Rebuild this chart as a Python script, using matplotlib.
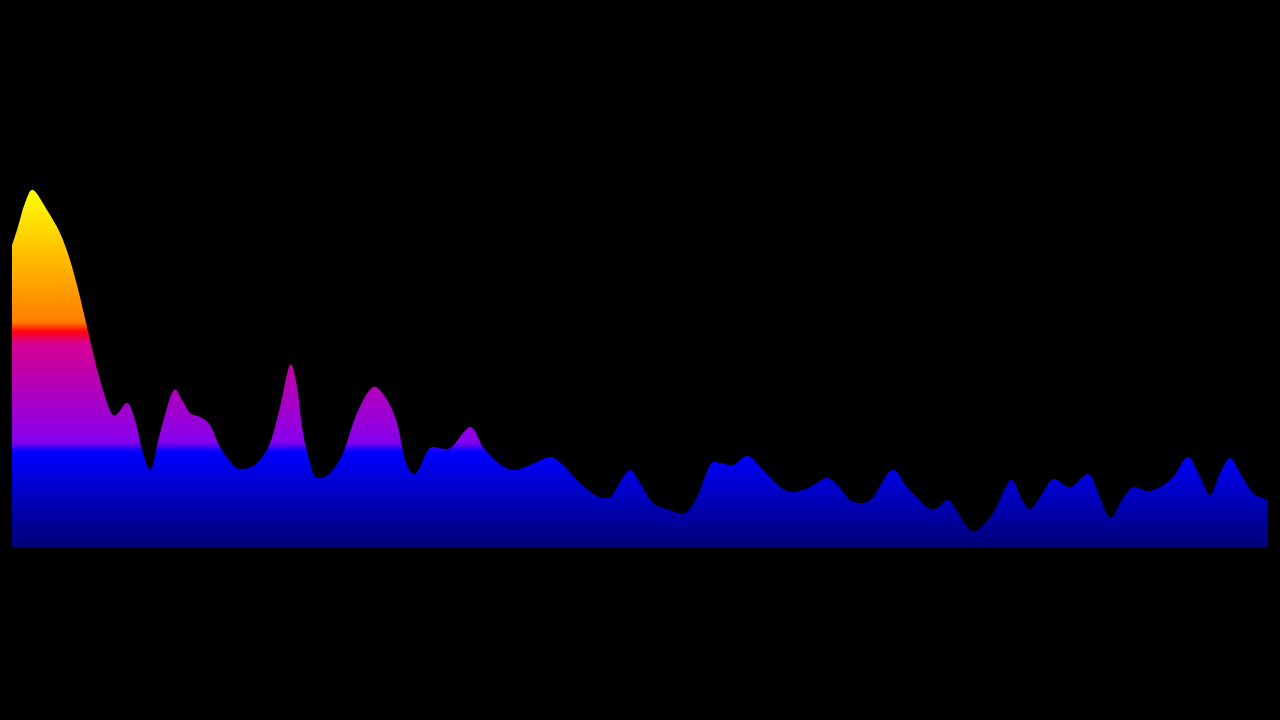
import numpy as np
import matplotlib
matplotlib.use("Agg")
import matplotlib.pyplot as plt
from matplotlib.colors import LinearSegmentedColormap
from matplotlib.patches import PathPatch
from matplotlib.path import Path

# Spectrum data: frequency position (bin offset) and amplitude
freq_pos = [0, 5, 13, 21, 35, 48, 58, 68, 78, 88, 101, 115, 123, 131, 139, 148,
            161, 170, 178, 188, 198, 208, 221, 231, 245, 258, 268, 278, 285, 291,
            300, 306, 318, 331, 345, 361, 375, 385, 393, 401, 408, 418, 438, 458,
            471, 485, 501, 518, 538, 551, 568, 585, 598, 608, 618, 628, 641, 658,
            673, 685, 698, 708, 721, 736, 751, 768, 781, 798, 815, 828, 838, 851,
            861, 880, 895, 915, 925, 936, 946, 958, 968, 981, 991, 1000, 1010, 1018,
            1028, 1041, 1058, 1076, 1085, 1093, 1100, 1110, 1121, 1135, 1148, 1161,
            1176, 1188, 1198, 1208, 1218, 1228, 1240, 1248, 1256]
amplitude = [303, 318, 345, 358, 338, 315, 288, 251, 208, 168, 133, 145, 128, 95, 79, 115,
             157, 148, 135, 131, 123, 101, 83, 79, 85, 105, 141, 183, 161, 115,
             78, 70, 75, 95, 135, 161, 148, 125, 88, 74, 81, 100, 100, 121,
             101, 86, 78, 83, 91, 83, 65, 52, 51, 66, 78, 65, 45, 38,
             35, 51, 83, 85, 83, 92, 78, 61, 56, 61, 70, 60, 48, 45,
             51, 78, 61, 41, 40, 48, 35, 18, 20, 35, 55, 68, 48, 39,
             51, 69, 61, 74, 58, 38, 31, 48, 61, 57, 61, 71,
             91, 71, 53, 75, 90, 75, 56, 51, 48]

# Colour ramp (amplitude level -> colour)
ramp_levels = [0, 95, 105, 205, 216, 226, 358, 500]
ramp_colors = [(0, 0, 120), (0, 0, 255), (135, 0, 235), (215, 0, 145),
               (255, 0, 20), (255, 125, 0), (255, 255, 0), (255, 255, 0)]

fig = plt.figure(figsize=(12.8, 7.2), dpi=100, facecolor="black")
ax = fig.add_axes([12 / 1280, (720 - 548) / 720, 1258 / 1280, 500 / 720])
ax.set_facecolor("black")
ax.set_xlim(0, 1258)
ax.set_ylim(0, 500)
ax.axis("off")

top = ramp_levels[-1]
cmap = LinearSegmentedColormap.from_list(
    "spec", [(lv / top, tuple(c / 255 for c in col)) for lv, col in zip(ramp_levels, ramp_colors)])

grad = np.linspace(0, 1, 1000).reshape(-1, 1)
im = ax.imshow(grad, cmap=cmap, aspect="auto", origin="lower",
               extent=[0, freq_pos[-1], 0, top], vmin=0, vmax=1, interpolation="bilinear")

# Smooth outline: Catmull-Rom segments rendered as cubic Bezier path curves
pts = np.column_stack([freq_pos, amplitude]).astype(float)
n = len(pts)
verts = [(pts[0, 0], 0.0), tuple(pts[0])]
codes = [Path.MOVETO, Path.LINETO]
for i in range(n - 1):
    p0 = pts[max(i - 1, 0)]
    p1 = pts[i]
    p2 = pts[i + 1]
    p3 = pts[min(i + 2, n - 1)]
    c1 = p1 + (p2 - p0) / 6.0
    c2 = p2 - (p3 - p1) / 6.0
    verts += [tuple(c1), tuple(c2), tuple(p2)]
    codes += [Path.CURVE4, Path.CURVE4, Path.CURVE4]
verts += [(pts[-1, 0], 0.0), (pts[0, 0], 0.0)]
codes += [Path.LINETO, Path.CLOSEPOLY]
path = Path(verts, codes)
patch = PathPatch(path, facecolor="none", edgecolor="none", transform=ax.transData)
ax.add_patch(patch)
im.set_clip_path(patch)

fig.savefig("out.png", dpi=100, facecolor="black")
